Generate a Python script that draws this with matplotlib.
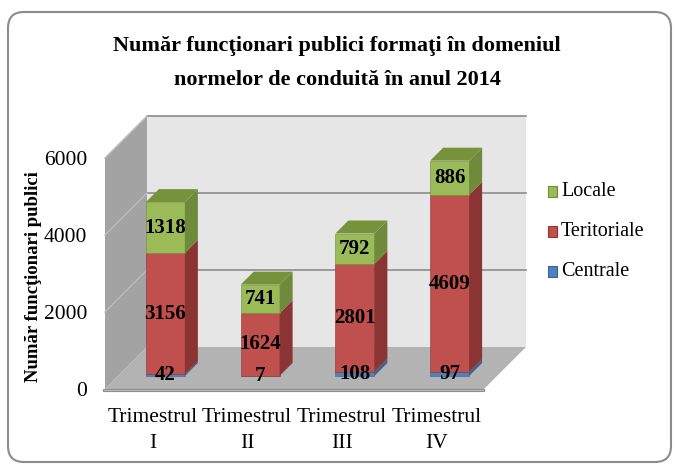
import matplotlib
matplotlib.use("Agg")
import matplotlib.pyplot as plt
import numpy as np
from matplotlib.patches import Polygon, Rectangle, FancyBboxPatch

plt.rcParams["font.family"] = ["Liberation Serif", "DejaVu Serif"]

# ─── date ───
categories = ["Trimestrul\nI", "Trimestrul\nII", "Trimestrul\nIII", "Trimestrul\nIV"]
centrale = [42, 7, 108, 97]
teritoriale = [3156, 1624, 2801, 4609]
locale = [1318, 741, 792, 886]
series_names = ["Centrale", "Teritoriale", "Locale"]
yticks = [0, 2000, 4000, 6000]

title_1 = "Număr funcţionari publici formaţi în domeniul"
title_2 = "normelor de conduită în anul 2014"
ylabel = "Număr funcţionari publici"

# culori: (față, lateral, sus)
colors = {
    "Centrale": ("#4F81BD", "#3A6491", "#4573A8"),
    "Teritoriale": ("#C0504D", "#8A3533", "#A8403D"),
    "Locale": ("#9BBB59", "#6E8A3A", "#76933C"),
}

W, H = 676, 468
fig = plt.figure(figsize=(W / 100, H / 100), dpi=100)

# strat de fundal în pixeli (chenar, titlu, legendă)
bg = fig.add_axes([0, 0, 1, 1])
bg.set_xlim(0, W)
bg.set_ylim(H, 0)
bg.axis("off")

bg.add_patch(FancyBboxPatch((8, 12), 663, 450,
                            boxstyle="round,pad=0,rounding_size=16",
                            fc="white", ec="#8C8C8C", lw=1.5))
bg.text(337, 46, title_1, ha="center", va="center", fontsize=16, fontweight="bold")
bg.text(337, 80, title_2, ha="center", va="center", fontsize=16, fontweight="bold")
bg.text(34, 277, ylabel, ha="center", va="center", rotation=90,
        fontsize=13.5, fontweight="bold")

# ─── geometrie pseudo-3D ───
X0, Y0 = 105, 389          # colțul stânga-jos al planului frontal (px)
PX_CAT = 94.75             # px pe categorie
PX_VAL = 77 / 2000         # px pe unitate
WALL = 42                  # adâncime perete (px)
B1, B2 = 13, 26            # plan față / spate al barelor (px)
BAR_W = 39 / PX_CAT

ax_w, ax_h = 425, 273
ax = fig.add_axes([X0 / W, (H - Y0) / H, ax_w / W, ax_h / H])
ax.set_xlim(-0.5, -0.5 + ax_w / PX_CAT)
ax.set_ylim(0, ax_h / PX_VAL)
ax.patch.set_alpha(0)
for s in ax.spines.values():
    s.set_visible(False)


def off(px):
    return px / PX_CAT, px / PX_VAL


n = len(categories)
xl, xr = -0.5, n - 0.5
top = yticks[-1]
dxw, dyw = off(WALL)

# podea
ax.add_patch(Polygon([(xl, 0), (xr, 0), (xr + dxw, dyw), (xl + dxw, dyw)],
                     closed=True, fc="#B3B3B3", ec="none", clip_on=False, zorder=1))
ax.add_patch(Polygon([(xl - 0.02, -60), (xr, -60), (xr, 0), (xl - 0.02, 0)],
                     closed=True, fc="#C4C4C4", ec="#8C8C8C", lw=0.8,
                     clip_on=False, zorder=1))
# perete stâng
ax.add_patch(Polygon([(xl, 0), (xl, top), (xl + dxw, top + dyw), (xl + dxw, dyw)],
                     closed=True, fc="#A3A3A3", ec="none", clip_on=False, zorder=1))
# perete spate
ax.add_patch(Polygon([(xl + dxw, dyw), (xl + dxw, top + dyw),
                      (xr + dxw, top + dyw), (xr + dxw, dyw)],
                     closed=True, fc="#E6E6E6", ec="none", clip_on=False, zorder=1))
# linii de grilă
for t in yticks[1:]:
    ax.plot([xl + dxw, xr + dxw], [t + dyw, t + dyw], color="#8C8C8C", lw=1.2,
            clip_on=False, zorder=2)
    ax.plot([xl, xl + dxw], [t, t + dyw], color="#BDBDBD", lw=1.0,
            clip_on=False, zorder=2)

# ─── bare stivuite ───
x = np.arange(n)
f1x, f1y = off(B1)
f2x, f2y = off(B2)
bottom = np.zeros(n)
stack = [("Centrale", centrale), ("Teritoriale", teritoriale), ("Locale", locale)]
totals = np.array(centrale) + np.array(teritoriale) + np.array(locale)

for name, vals in stack:
    vals = np.array(vals, dtype=float)
    front, side, topc = colors[name]
    ax.bar(x + f1x, vals, bottom=bottom + f1y, width=BAR_W, color=front,
           edgecolor=side, linewidth=0.4, zorder=3, clip_on=False)
    for i in range(n):
        xr_b = x[i] + f1x + BAR_W / 2
        y0 = bottom[i] + f1y
        y1 = y0 + vals[i]
        ax.add_patch(Polygon([(xr_b, y0), (xr_b + (f2x - f1x), y0 + (f2y - f1y)),
                              (xr_b + (f2x - f1x), y1 + (f2y - f1y)), (xr_b, y1)],
                             closed=True, fc=side, ec="none", zorder=3, clip_on=False))
        if bottom[i] + vals[i] >= totals[i]:
            xl_b = x[i] + f1x - BAR_W / 2
            ax.add_patch(Polygon([(xl_b, y1), (xr_b, y1),
                                  (xr_b + (f2x - f1x), y1 + (f2y - f1y)),
                                  (xl_b + (f2x - f1x), y1 + (f2y - f1y))],
                                 closed=True, fc=topc, ec="none", zorder=3,
                                 clip_on=False))
        ax.text(x[i] + f1x, bottom[i] + f1y + vals[i] / 2, f"{int(vals[i])}",
                ha="center", va="center", fontsize=15, fontweight="bold",
                zorder=5, clip_on=False)
    bottom += vals

ax.set_xticks(x)
ax.set_xticklabels(categories, fontsize=15.5, linespacing=1.45)
ax.set_yticks(yticks)
ax.set_yticklabels([str(t) for t in yticks], fontsize=15.5)
ax.tick_params(axis="x", length=0, pad=14)
ax.tick_params(axis="y", length=0, pad=13)

# ─── legendă ───
leg_y = [191, 231, 271]
for name, ly in zip(["Locale", "Teritoriale", "Centrale"], leg_y):
    front, side, _ = colors[name]
    bg.add_patch(Rectangle((548, ly - 5.5), 9, 11, fc=front, ec=side, lw=0.8))
    bg.text(561, ly, name, ha="left", va="center", fontsize=14.5)

fig.savefig("out.png", dpi=100)
